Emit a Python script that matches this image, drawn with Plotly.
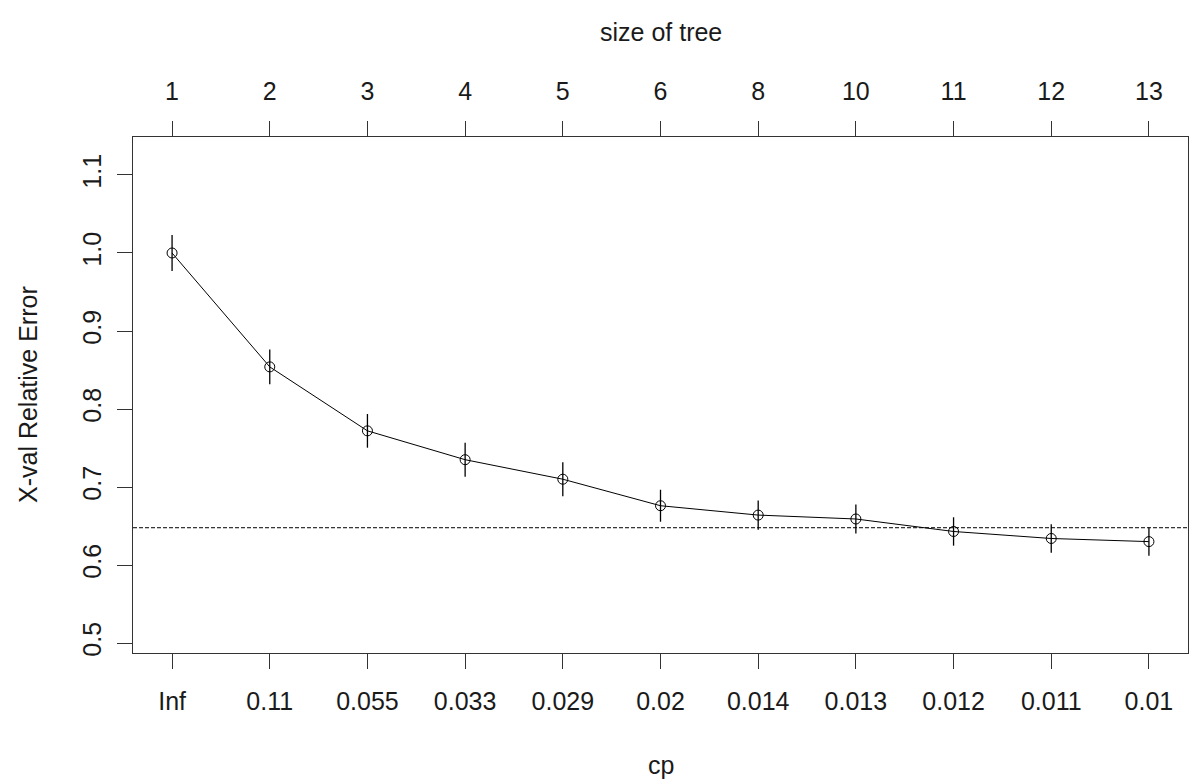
import plotly.graph_objects as go

# Data (rpart plotcp)
cp_labels = ["Inf", "0.11", "0.055", "0.033", "0.029", "0.02", "0.014", "0.013", "0.012", "0.011", "0.01"]
tree_size = ["1", "2", "3", "4", "5", "6", "8", "10", "11", "12", "13"]
xerror = [1.000, 0.854, 0.772, 0.735, 0.710, 0.676, 0.664, 0.659, 0.643, 0.634, 0.630]
xstd = [0.0231, 0.0224, 0.0216, 0.0218, 0.0218, 0.0205, 0.0188, 0.0186, 0.0182, 0.0182, 0.0182]
threshold = 0.6478
y_ticks = [0.5, 0.6, 0.7, 0.8, 0.9, 1.0, 1.1]
y_tick_text = ["0.5", "0.6", "0.7", "0.8", "0.9", "1.0", "1.1"]

xpos = list(range(1, len(cp_labels) + 1))
FONT = "Liberation Sans, Arial, sans-serif"
FS = 25
XR = [0.6, 11.4]
YR = [0.4872, 1.1487]

fig = go.Figure()

fig.add_trace(go.Scatter(
    x=XR, y=[threshold, threshold], mode="lines",
    line=dict(color="black", width=1, dash="4px,2px"),
    hoverinfo="skip", showlegend=False,
))

fig.add_trace(go.Scatter(
    x=xpos, y=xerror, mode="lines+markers",
    line=dict(color="black", width=1),
    marker=dict(symbol="circle-open", size=10, color="black", line=dict(width=1, color="black")),
    error_y=dict(type="data", array=xstd, visible=True, color="black", thickness=1.3, width=0),
    showlegend=False,
))

# invisible trace for top axis
fig.add_trace(go.Scatter(x=xpos, y=xerror, xaxis="x2", mode="markers",
                         marker=dict(opacity=0), hoverinfo="skip", showlegend=False))

axis_common = dict(ticks="outside", ticklen=15, tickwidth=1, tickcolor="#333",
                   showgrid=False, zeroline=False,
                   tickfont=dict(family=FONT, size=FS, color="#1a1a1a"))

fig.update_layout(
    width=1193, height=783,
    margin=dict(l=133, r=5, t=137, b=130),
    paper_bgcolor="white", plot_bgcolor="white",
    xaxis=dict(range=XR, tickmode="array", tickvals=xpos, ticktext=cp_labels,
               showline=True, linecolor="#333", linewidth=1, mirror=True,
               ticklabelstandoff=11, **axis_common),
    xaxis2=dict(range=XR, overlaying="x", side="top", tickmode="array",
                tickvals=xpos, ticktext=tree_size, showline=False,
                ticklabelstandoff=11, **axis_common),
    yaxis=dict(range=YR, tickmode="array", tickvals=y_ticks, ticktext=y_tick_text,
               showline=True, linecolor="#333", linewidth=1, mirror=True,
               tickangle=-90, ticklabelstandoff=6, **axis_common),
    annotations=[
        dict(text="cp", xref="paper", yref="paper", x=0.5, y=(653 - 765) / 516,
             xanchor="center", yanchor="middle", showarrow=False,
             font=dict(family=FONT, size=FS, color="#1a1a1a")),
        dict(text="size of tree", xref="paper", yref="paper", x=0.5, y=(653 - 32) / 516,
             xanchor="center", yanchor="middle", showarrow=False,
             font=dict(family=FONT, size=FS, color="#1a1a1a")),
        dict(text="X-val Relative Error", xref="paper", yref="paper",
             x=(28 - 133) / 1055, y=0.5, textangle=-90,
             xanchor="center", yanchor="middle", showarrow=False,
             font=dict(family=FONT, size=FS, color="#1a1a1a")),
    ],
)

fig.write_html("out.html")
